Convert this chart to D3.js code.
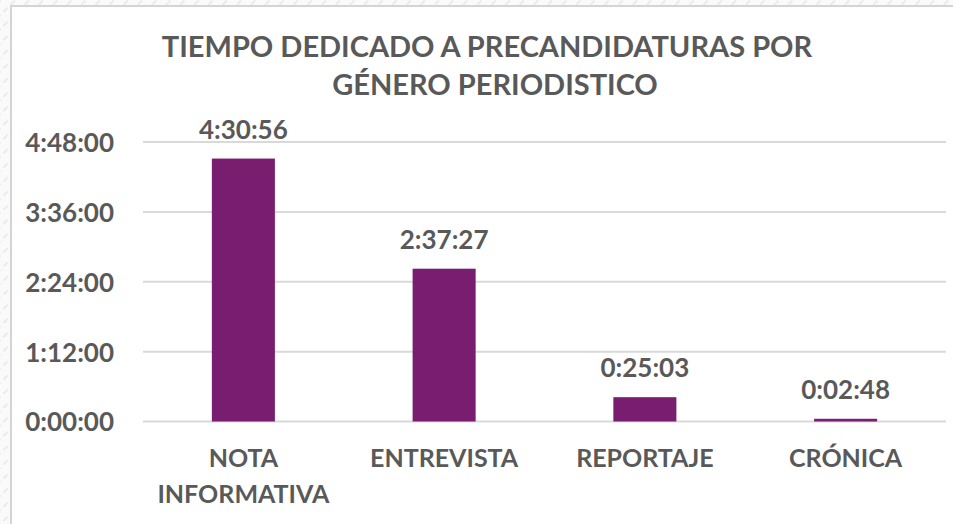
<!DOCTYPE html>
<html>
<head>
<meta charset="utf-8">
<script src="https://cdn.jsdelivr.net/npm/d3@7"></script>
<style>
  html, body { margin: 0; padding: 0; background: #fff; }
  svg { display: block; }
  text { font-family: Lato, "Open Sans", sans-serif; font-weight: 700; fill: #595959; }
</style>
</head>
<body>
<script>
const titleLines = ["TIEMPO DEDICADO A PRECANDIDATURAS POR", "GÉNERO PERIODISTICO"];
const categories = [["NOTA", "INFORMATIVA"], ["ENTREVISTA"], ["REPORTAJE"], ["CRÓNICA"]];
const valueLabels = ["4:30:56", "2:37:27", "0:25:03", "0:02:48"];
const valuesSeconds = [16256, 9447, 1503, 168];
const tickSeconds = [0, 4320, 8640, 12960, 17280];
const tickLabels = ["0:00:00", "1:12:00", "2:24:00", "3:36:00", "4:48:00"];

const W = 953, H = 524;
const svg = d3.select("body").append("svg").attr("width", W).attr("height", H);

// hatched outer background
const defs = svg.append("defs");
const pat = defs.append("pattern").attr("id", "hatch").attr("patternUnits", "userSpaceOnUse")
  .attr("width", 10).attr("height", 10).attr("patternTransform", "rotate(45)");
pat.append("rect").attr("width", 10).attr("height", 10).attr("fill", "#fafafa");
pat.append("line").attr("x1", 0).attr("y1", 0).attr("x2", 0).attr("y2", 6)
  .attr("stroke", "#e6e6e6").attr("stroke-width", 3);
svg.append("rect").attr("width", W).attr("height", H).attr("fill", "url(#hatch)");
svg.append("rect").attr("x", 11).attr("y", 6).attr("width", W).attr("height", H)
  .attr("fill", "#fff").attr("stroke", "#d4d4d4").attr("stroke-width", 2);

const x = d3.scaleBand().domain(d3.range(categories.length)).range([143, 946])
  .paddingInner(0.686).paddingOuter(0.343);
const y = d3.scaleLinear().domain([0, 17280]).range([421.5, 142]);

// gridlines
svg.append("g").selectAll("line").data(tickSeconds).join("line")
  .attr("x1", 143).attr("x2", 946)
  .attr("y1", d => y(d)).attr("y2", d => y(d))
  .attr("stroke", "#d9d9d9").attr("stroke-width", 2);

// y axis labels
const yAxis = d3.axisLeft(y).tickValues(tickSeconds).tickFormat((d, i) => tickLabels[i]).tickSize(0).tickPadding(0);
const yg = svg.append("g").attr("transform", "translate(114,0)").call(yAxis);
yg.select(".domain").remove();
yg.selectAll("text").style("font-family", "Lato, sans-serif").style("font-weight", 700)
  .style("font-size", "26px").attr("fill", "#595959").attr("dy", "0.36em");

// bars
svg.append("g").selectAll("rect").data(valuesSeconds).join("rect")
  .attr("x", (d, i) => x(i)).attr("width", x.bandwidth())
  .attr("y", d => y(d)).attr("height", d => y(0) - y(d))
  .attr("fill", "#781d6f");

// data labels
svg.append("g").selectAll("text").data(valuesSeconds).join("text")
  .attr("x", (d, i) => x(i) + x.bandwidth() / 2)
  .attr("y", d => y(d) - 20)
  .attr("text-anchor", "middle").style("font-size", "26px")
  .text((d, i) => valueLabels[i]);

// category labels
const cg = svg.append("g").selectAll("text").data(categories).join("text")
  .attr("text-anchor", "middle").style("font-size", "25px")
  .attr("x", (d, i) => x(i) + x.bandwidth() / 2).attr("y", 467);
cg.selectAll("tspan").data(d => d).join("tspan")
  .attr("x", function () { return d3.select(this.parentNode).attr("x"); })
  .attr("dy", (d, j) => j === 0 ? 0 : 36)
  .text(d => d);

// title
svg.append("text").attr("text-anchor", "middle").style("font-size", "29px")
  .selectAll("tspan").data(titleLines).join("tspan")
  .attr("x", (d, i) => i === 0 ? 487 : 495).attr("y", (d, i) => 57 + i * 38)
  .text(d => d);
</script>
</body>
</html>
